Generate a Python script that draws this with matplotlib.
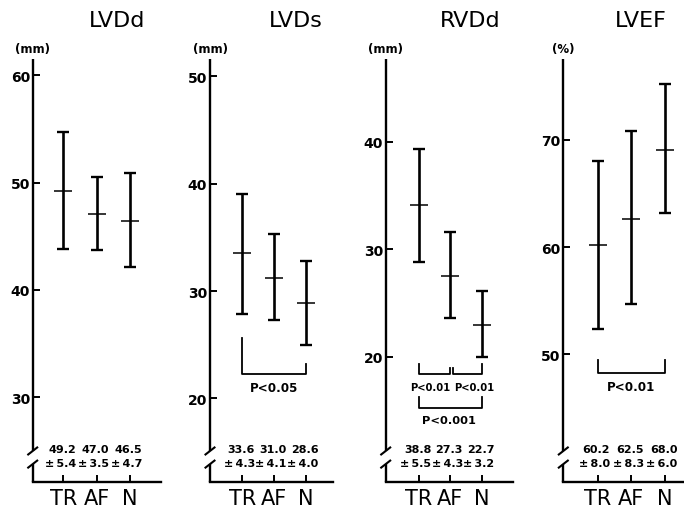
import matplotlib
matplotlib.use("Agg")
import matplotlib.pyplot as plt

plt.rcParams["font.family"] = ["DejaVu Sans"]

groups = ["TR", "AF", "N"]
titles = ["LVDd", "LVDs", "RVDd", "LVEF"]
units = ["(mm)", "(mm)", "(mm)", "(%)"]

# plotted means and bar ends
lvdd_mean = [49.2, 47.1, 46.4]
lvdd_hi = [54.7, 50.5, 50.9]
lvdd_lo = [43.85, 43.7, 42.1]
lvds_mean = [33.5, 31.2, 28.9]
lvds_hi = [39.0, 35.3, 32.8]
lvds_lo = [27.9, 27.3, 25.0]
rvdd_mean = [34.1, 27.5, 22.9]
rvdd_hi = [39.3, 31.6, 26.1]
rvdd_lo = [28.8, 23.6, 20.0]
lvef_mean = [60.2, 62.6, 69.0]
lvef_hi = [68.0, 70.8, 75.2]
lvef_lo = [52.35, 54.7, 63.2]

# printed mean +- SD
lvdd_txt = ["49.2", "47.0", "46.5"]
lvdd_sd = ["5.4", "3.5", "4.7"]
lvds_txt = ["33.6", "31.0", "28.6"]
lvds_sd = ["4.3", "4.1", "4.0"]
rvdd_txt = ["38.8", "27.3", "22.7"]
rvdd_sd = ["5.5", "4.3", "3.2"]
lvef_txt = ["60.2", "62.5", "68.0"]
lvef_sd = ["8.0", "8.3", "6.0"]

# significance brackets: (x1, x2, y_left_top, y_right_top, y_bar, label, y_label, x_label, size)
lvds_sig = [(1, 3, 25.6, 23.2, 22.3, "P<0.05", 21.0, 2.0, 8.6)]
rvdd_sig = [(1, 1.98, 19.3, 18.9, 18.4, "P<0.01", 17.2, 1.37, 7.2),
            (2.09, 3, 18.9, 19.3, 18.4, "P<0.01", 17.2, 2.75, 7.2),
            (1, 3, 16.2, 16.2, 15.2, "P<0.001", 14.1, 1.95, 8.2)]
lvef_sig = [(1, 3, 49.5, 49.5, 48.3, "P<0.01", 47.0, 2.0, 8.6)]

yticks = [[30, 40, 50, 60], [20, 30, 40, 50], [20, 30, 40], [50, 60, 70]]
ylims = [(22.1, 61.5), (12.2, 51.6), (8.3, 47.7), (38.1, 77.5)]
xlims = [(0.082, 3.929), (-0.014, 3.857), (-0.062, 3.989), (-0.022, 3.565)]

W, H = 684, 510
fig = plt.figure(figsize=(W / 100, H / 100), dpi=100)

ax_left = [32.7, 210, 385.7, 563.3]
ax_w = [128.3, 123.3, 127, 120.7]
ax_bot, ax_top = 483.3, 60
title_x = [117.5, 296, 470, 641]

panels = [
    (lvdd_mean, lvdd_hi, lvdd_lo, lvdd_txt, lvdd_sd, []),
    (lvds_mean, lvds_hi, lvds_lo, lvds_txt, lvds_sd, lvds_sig),
    (rvdd_mean, rvdd_hi, rvdd_lo, rvdd_txt, rvdd_sd, rvdd_sig),
    (lvef_mean, lvef_hi, lvef_lo, lvef_txt, lvef_sd, lvef_sig),
]

LW = 1.7
x = [1, 2, 3]
for i, (mean, hi, lo, txt, sd, sig) in enumerate(panels):
    ax = fig.add_axes([ax_left[i] / W, 1 - ax_bot / H, ax_w[i] / W, (ax_bot - ax_top) / H])
    ax.set_xlim(*xlims[i])
    ax.set_ylim(*ylims[i])
    err = [[m - l for m, l in zip(mean, lo)], [h - m for m, h in zip(mean, hi)]]
    ax.errorbar(x, mean, yerr=err, fmt="none", ecolor="black",
                elinewidth=1.9, capsize=4.1, capthick=1.7)
    ax.plot(x, mean, ls="none", marker="_", ms=12.5, mew=1.1, color="black")

    for s in ["top", "right"]:
        ax.spines[s].set_visible(False)
    ax.spines["bottom"].set_linewidth(LW)
    ax.spines["left"].set_visible(False)

    # broken y axis
    hpx = ax_bot - ax_top
    b_lo, b_hi = 0.043, 0.074
    tr = ax.transAxes
    ax.plot([0, 0], [b_hi, 1], transform=tr, color="black", lw=LW, clip_on=False,
            solid_capstyle="butt")
    ax.plot([0, 0], [0, b_lo], transform=tr, color="black", lw=LW, clip_on=False,
            solid_capstyle="butt")
    dx = 4.5 / ax_w[i]
    dy = 3.5 / hpx
    for yb in (b_lo, b_hi):
        ax.plot([-dx, dx], [yb - dy, yb + dy], transform=tr, color="black",
                lw=1.5, clip_on=False)

    ax.set_yticks(yticks[i])
    ax.set_yticklabels([str(t) for t in yticks[i]], fontsize=10, fontweight="bold")
    ax.tick_params(axis="y", direction="in", length=5, width=1.4, pad=2)
    ax.set_xticks(x)
    ax.set_xticklabels(groups, fontsize=15)
    ax.tick_params(axis="x", direction="in", length=5, width=1.4, pad=4)

    # unit label
    ax.annotate(units[i], xy=(0, 1), xycoords="axes fraction", xytext=(0, 7.5),
                textcoords="offset points", ha="center", va="center",
                fontsize=8.5, fontweight="bold")

    # printed values
    for xi, t, s in zip(x, txt, sd):
        ax.annotate(t, xy=(xi, 0), xycoords=("data", "axes fraction"),
                    xytext=(9, 24.2), textcoords="offset points",
                    ha="right", va="center", fontsize=8, fontweight="bold")
        ax.annotate("\u00b1\u2009" + s, xy=(xi, 0), xycoords=("data", "axes fraction"),
                    xytext=(9, 13.6), textcoords="offset points",
                    ha="right", va="center", fontsize=8, fontweight="bold")

    # significance brackets
    for x1, x2, yl, yr, yb, lab, ylab, xlab, fs in sig:
        ax.plot([x1, x1, x2, x2], [yl, yb, yb, yr], color="black", lw=1.3,
                clip_on=False)
        ax.text(xlab, ylab, lab, ha="center", va="center", fontsize=fs,
                fontweight="bold")

    fig.text(title_x[i] / W, 1 - 21 / H, titles[i], ha="center", va="center",
             fontsize=16)

fig.savefig("out.png", dpi=100)
